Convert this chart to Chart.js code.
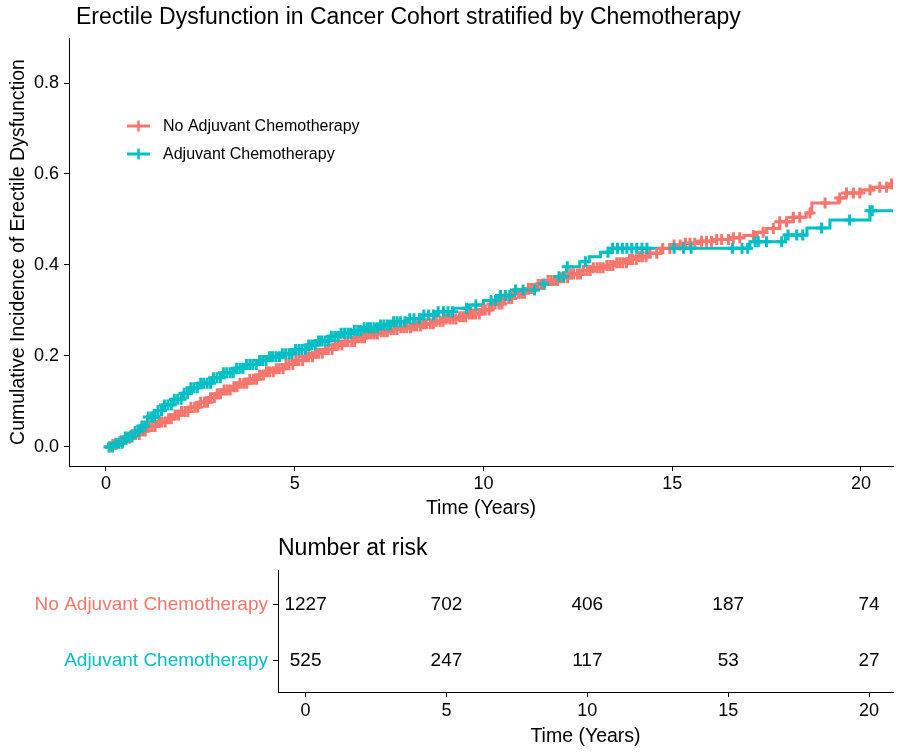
<!DOCTYPE html>
<html><head><meta charset="utf-8">
<script src="https://cdn.jsdelivr.net/npm/chart.js@4.4.1/dist/chart.umd.min.js"></script>
<style>
html,body{margin:0;padding:0;background:#fff;}
#wrap{position:relative;width:904px;height:754px;overflow:hidden;}
#c1{position:absolute;left:0;top:0;}
#c2{position:absolute;left:0;top:525px;}
</style></head><body>
<div id="wrap">
<canvas id="c1" width="904" height="525"></canvas>
<canvas id="c2" width="904" height="229"></canvas>
</div>
<script>
// ---------------- DATA ----------------
const groups = ['No Adjuvant Chemotherapy', 'Adjuvant Chemotherapy'];
const groupColors = ['#F8766D', '#00BFC4'];

const noChemoTimes = [0, 0.12, 0.3, 0.5, 0.7, 0.9, 1.1, 1.35, 1.6, 1.8, 2.0, 2.2, 2.45, 2.7, 2.9, 3.1, 3.3, 3.5, 3.75, 4.0, 4.25, 4.5, 4.75, 5.0, 5.25, 5.5, 5.75, 6.0, 6.3, 6.6, 6.9, 7.2, 7.5, 7.8, 8.1, 8.4, 8.7, 9.0, 9.3, 9.6, 9.9, 10.2, 10.5, 10.8, 11.1, 11.4, 11.7, 12.0, 12.3, 12.6, 12.9, 13.2, 13.5, 13.8, 14.1, 14.4, 14.7, 14.95, 15.3, 15.7, 16.1, 16.5, 16.9, 17.2, 17.5, 17.85, 18.2, 18.55, 18.7, 19.4, 19.6, 20.0, 20.3, 20.7, 20.9];
const noChemoCI = [0, 0.005, 0.012, 0.019, 0.027, 0.035, 0.045, 0.055, 0.062, 0.07, 0.078, 0.087, 0.098, 0.108, 0.117, 0.125, 0.132, 0.14, 0.149, 0.158, 0.165, 0.172, 0.181, 0.19, 0.198, 0.206, 0.214, 0.224, 0.232, 0.24, 0.248, 0.253, 0.258, 0.262, 0.266, 0.271, 0.276, 0.281, 0.286, 0.292, 0.301, 0.314, 0.326, 0.338, 0.348, 0.357, 0.366, 0.372, 0.38, 0.388, 0.394, 0.399, 0.405, 0.412, 0.418, 0.426, 0.436, 0.444, 0.448, 0.452, 0.456, 0.46, 0.465, 0.472, 0.48, 0.495, 0.505, 0.514, 0.536, 0.547, 0.558, 0.565, 0.571, 0.578, 0.578];
const noChemoCensor = [0.1, 0.18, 0.27, 0.37, 0.44, 0.52, 0.63, 0.7, 0.78, 0.88, 0.96, 1.04, 1.14, 1.22, 1.3, 1.4, 1.47, 1.57, 1.66, 1.73, 1.83, 1.92, 2.0, 2.09, 2.17, 2.25, 2.35, 2.43, 2.51, 2.61, 2.69, 2.77, 2.87, 2.95, 3.03, 3.13, 3.21, 3.29, 3.39, 3.47, 3.55, 3.65, 3.73, 3.81, 3.91, 3.99, 4.07, 4.17, 4.25, 4.33, 4.43, 4.51, 4.59, 4.69, 4.77, 4.85, 4.95, 5.03, 5.11, 5.21, 5.29, 5.37, 5.47, 5.55, 5.63, 5.73, 5.81, 5.89, 5.99, 6.07, 6.15, 6.25, 6.33, 6.41, 6.51, 6.59, 6.67, 6.77, 6.85, 6.93, 7.03, 7.11, 7.19, 7.29, 7.37, 7.45, 7.55, 7.63, 7.71, 7.81, 7.89, 7.97, 8.07, 8.15, 8.23, 8.33, 8.41, 8.49, 8.59, 8.67, 8.75, 8.85, 8.93, 9.01, 9.11, 9.19, 9.27, 9.37, 9.45, 9.53, 9.63, 9.71, 9.79, 9.89, 9.97, 10.05, 10.15, 10.23, 10.31, 10.41, 10.49, 10.57, 10.67, 10.75, 10.83, 10.93, 11.01, 11.09, 11.19, 11.27, 11.35, 11.45, 11.53, 11.61, 11.71, 11.79, 11.87, 11.97, 12.05, 12.13, 12.23, 12.31, 12.39, 12.49, 12.57, 12.65, 12.75, 12.83, 12.91, 13.01, 13.09, 13.17, 13.27, 13.35, 13.43, 13.53, 13.61, 13.69, 13.79, 13.87, 13.95, 14.05, 14.13, 14.21, 14.31, 14.41, 14.59, 14.75, 14.94, 15.05, 15.21, 15.35, 15.47, 15.6, 15.78, 15.91, 16.04, 16.18, 16.31, 16.49, 16.62, 16.79, 17.15, 17.41, 17.68, 17.85, 18.03, 18.21, 18.38, 18.65, 19.05, 19.44, 19.62, 19.8, 19.97, 20.24, 20.5, 20.68, 20.81];

const chemoTimes = [0, 0.2, 0.45, 0.7, 0.9, 1.1, 1.3, 1.5, 1.75, 2.0, 2.25, 2.5, 2.8, 3.1, 3.4, 3.7, 4.0, 4.3, 4.6, 4.95, 5.3, 5.6, 5.9, 6.2, 6.5, 6.8, 7.2, 7.6, 8.0, 8.4, 8.8, 9.2, 9.6, 10.0, 10.4, 10.8, 11.4, 11.95, 12.2, 12.55, 12.8, 13.1, 13.4, 17.06, 18.0, 18.57, 19.18, 20.24, 20.9];
const chemoCI = [0, 0.008, 0.022, 0.034, 0.046, 0.066, 0.08, 0.092, 0.105, 0.118, 0.13, 0.14, 0.152, 0.163, 0.173, 0.181, 0.19, 0.198, 0.205, 0.214, 0.224, 0.233, 0.243, 0.25, 0.256, 0.262, 0.268, 0.275, 0.282, 0.29, 0.297, 0.305, 0.312, 0.322, 0.333, 0.345, 0.358, 0.374, 0.396, 0.407, 0.418, 0.428, 0.437, 0.451, 0.466, 0.481, 0.499, 0.519, 0.519];
const chemoCensor = [0.08, 0.17, 0.26, 0.34, 0.43, 0.51, 0.6, 0.69, 0.77, 0.86, 0.95, 1.03, 1.12, 1.21, 1.29, 1.38, 1.47, 1.55, 1.64, 1.73, 1.81, 1.9, 1.99, 2.07, 2.16, 2.25, 2.33, 2.42, 2.51, 2.59, 2.68, 2.77, 2.85, 2.94, 3.03, 3.11, 3.2, 3.29, 3.37, 3.46, 3.55, 3.63, 3.72, 3.81, 3.89, 3.98, 4.07, 4.15, 4.24, 4.33, 4.41, 4.5, 4.59, 4.67, 4.76, 4.85, 4.93, 5.02, 5.11, 5.19, 5.28, 5.37, 5.45, 5.54, 5.63, 5.71, 5.8, 5.89, 5.97, 6.06, 6.15, 6.23, 6.32, 6.41, 6.49, 6.58, 6.67, 6.75, 6.84, 6.93, 7.01, 7.1, 7.19, 7.27, 7.36, 7.45, 7.53, 7.62, 7.71, 7.8, 7.92, 8.05, 8.16, 8.3, 8.42, 8.55, 8.68, 8.8, 8.94, 9.06, 9.18, 9.55, 9.8, 10.2, 10.32, 10.45, 10.58, 10.7, 10.85, 11.05, 11.35, 11.6, 12.0, 12.12, 12.22, 12.7, 13.3, 13.42, 13.55, 13.68, 13.8, 13.93, 14.06, 14.2, 14.33, 15.05, 15.3, 15.5, 16.6, 16.85, 17.0, 17.2, 17.28, 17.5, 17.9, 18.07, 18.3, 18.46, 18.96, 19.7, 20.24, 20.3];

const riskTimes = [0, 5, 10, 15, 20];
const riskNoChemo = [1227, 702, 406, 187, 74];
const riskChemo = [525, 247, 117, 53, 27];

const xTicks = [0, 5, 10, 15, 20];
const yTicks = [0, 0.2, 0.4, 0.6, 0.8];

// ---------------- HELPERS ----------------
const FONT = '"Liberation Sans", Arial, Helvetica, sans-serif';
Chart.defaults.font.family = FONT;
Chart.defaults.color = '#000';

const stepPoints = (times, vals) => times.map((t, i) => ({x: t, y: vals[i]}));
const censorPoints = (times, vals, cens) => cens.map(c => {
  let v = 0;
  for (let i = 0; i < times.length; i++) if (times[i] <= c) v = vals[i];
  return {x: c, y: v};
});

const textPlugin = {
  id: 'fixedTexts',
  afterDraw(chart, args, opts) {
    const ctx = chart.ctx;
    (opts.items || []).forEach(it => {
      ctx.save();
      ctx.font = it.font;
      ctx.fillStyle = it.color || '#000';
      ctx.textAlign = it.align || 'left';
      ctx.textBaseline = 'middle';
      ctx.fillText(it.text, it.x, it.y);
      ctx.restore();
    });
  }
};

const legendPlugin = {
  id: 'kmLegend',
  afterDraw(chart, args, opts) {
    if (!opts.show) return;
    const ctx = chart.ctx;
    groups.forEach((g, i) => {
      const y = opts.y + i * opts.gap;
      ctx.save();
      ctx.strokeStyle = groupColors[i];
      ctx.lineWidth = 3;
      ctx.beginPath();
      ctx.moveTo(opts.x, y); ctx.lineTo(opts.x + 23, y);
      ctx.stroke();
      ctx.lineWidth = 2.5;
      ctx.beginPath();
      ctx.moveTo(opts.x + 11.5, y - 5.5); ctx.lineTo(opts.x + 11.5, y + 5.5);
      ctx.stroke();
      ctx.fillStyle = '#000';
      ctx.font = '16px ' + FONT;
      ctx.textBaseline = 'middle';
      ctx.textAlign = 'left';
      ctx.fillText(g, opts.x + 36, y + 1);
      ctx.restore();
    });
  }
};

const riskLabelPlugin = {
  id: 'riskLabels',
  afterDatasetsDraw(chart) {
    const ctx = chart.ctx;
    const tables = [riskNoChemo, riskChemo];
    chart.data.datasets.forEach((ds, di) => {
      const meta = chart.getDatasetMeta(di);
      meta.data.forEach((pt, j) => {
        ctx.save();
        ctx.font = '19px ' + FONT;
        ctx.fillStyle = '#000';
        ctx.textAlign = 'center';
        ctx.textBaseline = 'middle';
        ctx.fillText(String(tables[di][j]), pt.x, pt.y);
        ctx.restore();
      });
    });
  }
};

const XMIN = -0.98, XMAX = 20.85;
const axisGrid = {display: true, drawOnChartArea: false, drawTicks: true, tickLength: 5, color: '#000', lineWidth: 1};
const axisBorder = {display: true, color: '#000', width: 1};

// ---------------- MAIN CHART ----------------
new Chart(document.getElementById('c1'), {
  type: 'line',
  data: {
    datasets: [
      {label: groups[0], data: stepPoints(noChemoTimes, noChemoCI), stepped: true, borderColor: groupColors[0], borderWidth: 3, pointRadius: 0, fill: false, order: 4},
      {label: groups[1], data: stepPoints(chemoTimes, chemoCI), stepped: true, borderColor: groupColors[1], borderWidth: 3, pointRadius: 0, fill: false, order: 3},
      {label: groups[0] + ' censor', data: censorPoints(noChemoTimes, noChemoCI, noChemoCensor), showLine: false, pointStyle: 'cross', pointRadius: 5.5, pointBorderWidth: 3, pointBorderColor: groupColors[0], borderColor: groupColors[0], order: 2},
      {label: groups[1] + ' censor', data: censorPoints(chemoTimes, chemoCI, chemoCensor), showLine: false, pointStyle: 'cross', pointRadius: 5.5, pointBorderWidth: 3, pointBorderColor: groupColors[1], borderColor: groupColors[1], order: 1}
    ]
  },
  options: {
    responsive: false,
    devicePixelRatio: 1,
    animation: false,
    events: [],
    layout: {padding: {top: 38, left: 0, right: 11, bottom: 0}},
    plugins: {
      legend: {display: false},
      tooltip: {enabled: false},
      fixedTexts: {items: [{text: 'Erectile Dysfunction in Cancer Cohort stratified by Chemotherapy', x: 76, y: 18, font: '23px ' + FONT}]},
      kmLegend: {show: true, x: 127, y: 126, gap: 28}
    },
    scales: {
      x: {
        type: 'linear', min: XMIN, max: XMAX,
        afterBuildTicks: s => { s.ticks = xTicks.map(v => ({value: v})); },
        afterFit: s => { s.height = 59; },
        ticks: {color: '#000', font: {size: 18}, padding: 2, maxRotation: 0, autoSkip: false},
        grid: axisGrid, border: axisBorder,
        title: {display: true, text: 'Time (Years)', color: '#000', font: {size: 19.5}, padding: {top: 0, bottom: 5}}
      },
      y: {
        type: 'linear', min: -0.042, max: 0.899,
        afterBuildTicks: s => { s.ticks = yTicks.map(v => ({value: v})); },
        afterFit: s => { s.width = 69; },
        ticks: {color: '#000', font: {size: 18}, padding: 5, callback: v => Number(v).toFixed(1)},
        grid: axisGrid, border: axisBorder,
        title: {display: true, text: 'Cumulative Incidence of Erectile Dysfunction', color: '#000', font: {size: 19.5}, padding: {top: 6.5, bottom: 0}}
      }
    }
  },
  plugins: [textPlugin, legendPlugin]
});

// ---------------- RISK TABLE ----------------
new Chart(document.getElementById('c2'), {
  type: 'scatter',
  data: {
    datasets: [
      {label: groups[0], data: riskTimes.map(t => ({x: t, y: 1})), pointRadius: 0},
      {label: groups[1], data: riskTimes.map(t => ({x: t, y: 2})), pointRadius: 0}
    ]
  },
  options: {
    responsive: false,
    devicePixelRatio: 1,
    animation: false,
    events: [],
    layout: {padding: {top: 45, left: 0, right: 11, bottom: 0}},
    plugins: {
      legend: {display: false},
      tooltip: {enabled: false},
      fixedTexts: {items: [{text: 'Number at risk', x: 278, y: 24, font: '23px ' + FONT}]}
    },
    scales: {
      x: {
        type: 'linear', min: XMIN, max: XMAX,
        afterBuildTicks: s => { s.ticks = xTicks.map(v => ({value: v})); },
        afterFit: s => { s.height = 62; },
        ticks: {color: '#000', font: {size: 18}, padding: 3, maxRotation: 0, autoSkip: false},
        grid: axisGrid, border: axisBorder,
        title: {display: true, text: 'Time (Years)', color: '#000', font: {size: 19.5}, padding: {top: 0, bottom: 6}}
      },
      y: {
        type: 'linear', reverse: true, min: 0.384, max: 2.5625,
        afterBuildTicks: s => { s.ticks = [1, 2].map(v => ({value: v})); },
        afterFit: s => { s.width = 278; },
        ticks: {font: {size: 19}, padding: 5, color: c => groupColors[c.index], callback: v => groups[v - 1]},
        grid: axisGrid, border: axisBorder
      }
    }
  },
  plugins: [textPlugin, riskLabelPlugin]
});
</script>
</body></html>
